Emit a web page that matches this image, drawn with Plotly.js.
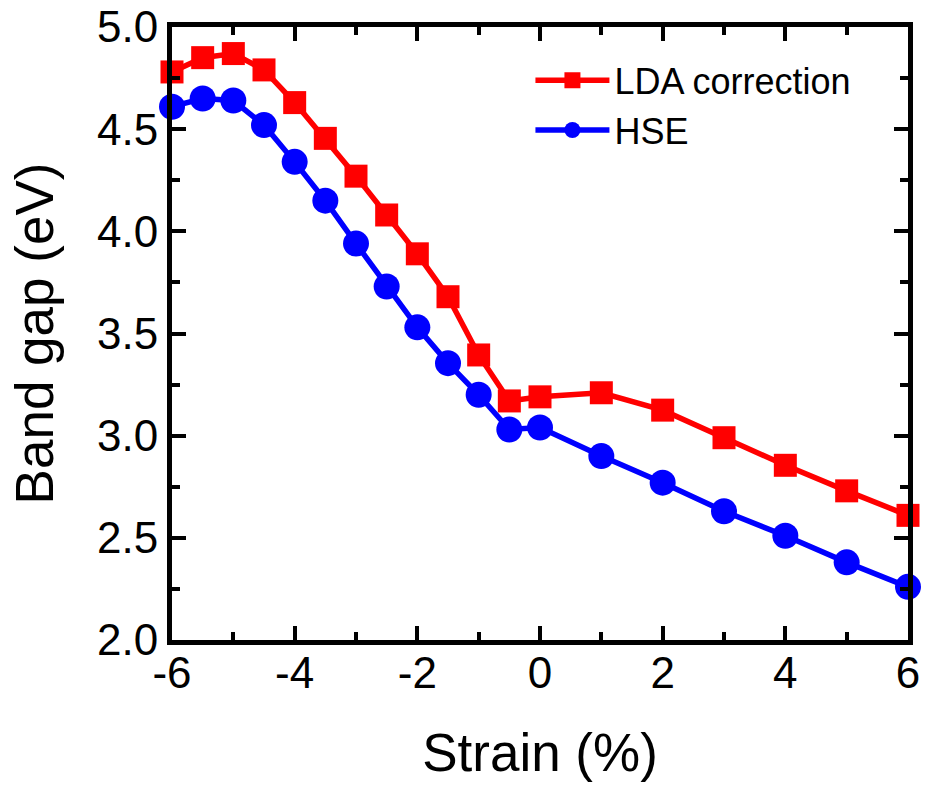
<!DOCTYPE html>
<html>
<head>
<meta charset="utf-8">
<script src="https://cdn.plot.ly/plotly-3.0.1.min.js"></script>
<style>
  html, body { margin: 0; padding: 0; background: #fff; }
  #chart { width: 925px; height: 791px; }
</style>
</head>
<body>
<div id="chart"></div>
<script>
// Strain values (%)
const strain = [-6, -5.5, -5, -4.5, -4, -3.5, -3, -2.5, -2, -1.5, -1, -0.5, 0, 1, 2, 3, 4, 5, 6];
// Band gap from LDA with correction (eV)
const gapLDA = [4.78, 4.85, 4.87, 4.79, 4.63, 4.455, 4.27, 4.08, 3.89, 3.68, 3.395, 3.17, 3.19, 3.21, 3.125, 2.99, 2.855, 2.73, 2.61];
// Band gap from HSE (eV)
const gapHSE = [4.61, 4.65, 4.64, 4.52, 4.34, 4.15, 3.94, 3.73, 3.53, 3.355, 3.20, 3.03, 3.04, 2.90, 2.77, 2.63, 2.51, 2.38, 2.26];

// Axis tick labels (plain hyphen for negatives)
const xTickVals = [-6, -4, -2, 0, 2, 4, 6];
const xTickText = ['-6', '-4', '-2', '0', '2', '4', '6'];
const yTickVals = [2.0, 2.5, 3.0, 3.5, 4.0, 4.5, 5.0];
const yTickText = ['2.0', '2.5', '3.0', '3.5', '4.0', '4.5', '5.0'];

const fontFamily = 'Arial, "Liberation Sans", Helvetica, sans-serif';

const traces = [
  {
    x: strain, y: gapLDA, name: 'LDA correction',
    type: 'scatter', mode: 'lines+markers',
    line: { color: '#ff0000', width: 5.5 },
    marker: { symbol: 'square', size: 23, color: '#ff0000' },
    cliponaxis: false
  },
  {
    x: strain, y: gapHSE, name: 'HSE',
    type: 'scatter', mode: 'lines+markers',
    line: { color: '#0000ff', width: 5.5 },
    marker: { symbol: 'circle', size: 26, color: '#0000ff' },
    cliponaxis: false
  }
];

const axisCommon = {
  showline: true, linecolor: '#000', linewidth: 5, mirror: 'ticks',
  ticks: 'inside', ticklen: 14, tickwidth: 4, tickcolor: '#000',
  showgrid: false, zeroline: false,
  tickfont: { family: fontFamily, size: 44, color: '#000' }
};

const layout = {
  width: 925, height: 791,
  margin: { l: 172, r: 17, t: 27, b: 151 },
  paper_bgcolor: '#fff', plot_bgcolor: '#fff',
  showlegend: true,
  legend: {
    x: 0.487, y: 0.962, xanchor: 'left', yanchor: 'top',
    itemwidth: 74,
    font: { family: fontFamily, size: 36, color: '#000' },
    bgcolor: 'rgba(0,0,0,0)', tracegroupgap: 0
  },
  xaxis: Object.assign({}, axisCommon, {
    range: [-6, 6], tickmode: 'array', tickvals: xTickVals, ticktext: xTickText,
    ticklabelstandoff: -10,
    minor: { dtick: 1, ticks: 'inside', ticklen: 8, tickwidth: 4, tickcolor: '#000', showgrid: false },
    title: { text: 'Strain (%)', font: { family: fontFamily, size: 53, color: '#000' }, standoff: 40 }
  }),
  yaxis: Object.assign({}, axisCommon, {
    range: [2.0, 5.0], tickmode: 'array', tickvals: yTickVals, ticktext: yTickText,
    minor: { dtick: 0.25, ticks: 'inside', ticklen: 8, tickwidth: 4, tickcolor: '#000', showgrid: false },
    title: { text: 'Band gap (eV)', font: { family: fontFamily, size: 53, color: '#000' }, standoff: 28 }
  })
};

Plotly.newPlot('chart', traces, layout, { displayModeBar: false, staticPlot: true });
</script>
</body>
</html>
